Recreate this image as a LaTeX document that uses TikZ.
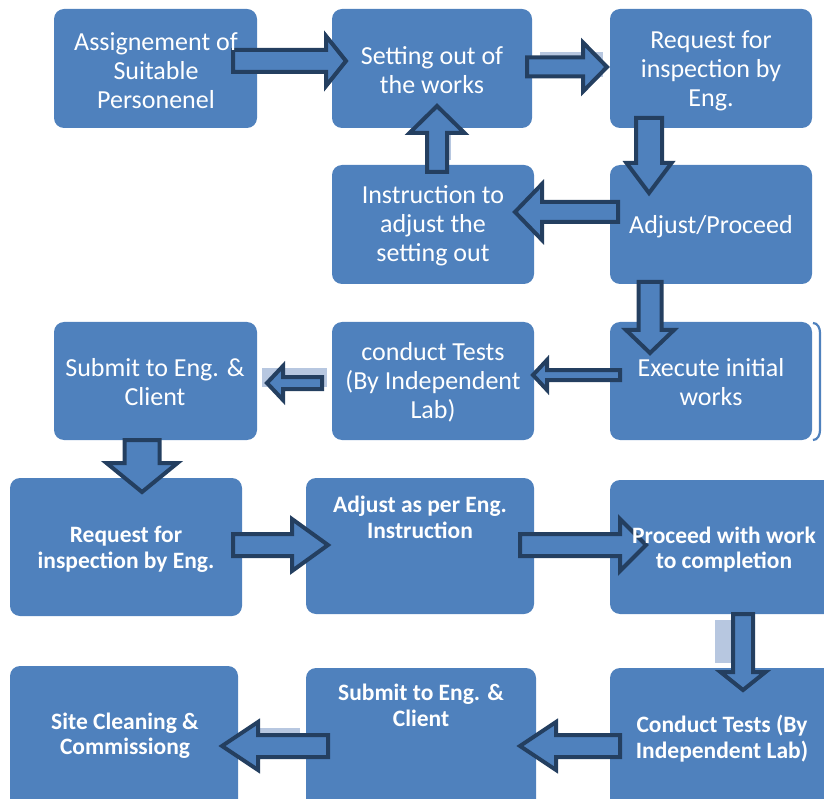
\documentclass[tikz,border=0pt]{standalone}
\usepackage{fontspec}
\setmainfont{Carlito}
\definecolor{boxblue}{HTML}{4F81BD}
\definecolor{navy}{HTML}{243F60}
\definecolor{shade}{HTML}{B7C7E0}
\tikzset{
  box/.style={fill=boxblue, rounded corners=10pt, inner sep=0pt},
  txt/.style={text=white, align=center, inner sep=0pt, font=\fontsize{26}{29}\selectfont, yshift=-1.5pt},
  btxt/.style={text=white, align=center, inner sep=0pt, font=\fontsize{23.5}{25.5}\selectfont\bfseries, yshift=-2.5pt},
  blockarrow/.style={fill=boxblue, draw=navy, line width=4pt, line join=miter},
  shadowrect/.style={fill=shade, draw=none}
}
% horizontal block arrow: tail x, head-base x, tip x, centre y, shaft half, head half
\newcommand\harr[6]{\draw[blockarrow] (#1,#4-#5) -- (#2,#4-#5) -- (#2,#4-#6) -- (#3,#4) -- (#2,#4+#6) -- (#2,#4+#5) -- (#1,#4+#5) -- cycle;}
% vertical block arrow: centre x, tail y, head-base y, tip y, shaft half, head half
\newcommand\varr[6]{\draw[blockarrow] (#1-#5,#2) -- (#1-#5,#3) -- (#1-#6,#3) -- (#1,#4) -- (#1+#6,#3) -- (#1+#5,#3) -- (#1+#5,#2) -- cycle;}
\newcommand\boxat[5]{\path[box] (#2,#3) rectangle (#4,#5); \coordinate (#1) at ({(#2+#4)/2},{(#3+#5)/2});}
\begin{document}
\begin{tikzpicture}[x=1pt,y=-1pt]
\clip (0,0) rectangle (824,799);
\useasboundingbox (0,0) rectangle (824,799);
% boxes
\boxat{b1}{54}{9}{257}{128}
\boxat{b2}{332}{9}{532}{128}
\boxat{b3}{610}{9}{812}{128}
\boxat{b4}{332}{165}{534}{284}
\boxat{b5}{610}{165}{812}{284}
\boxat{b6}{54}{322}{257}{440}
\boxat{b7}{332}{322}{534}{440}
\boxat{b8}{610}{322}{812}{440}
\boxat{b9}{10}{478}{242}{616}
\boxat{b10}{306}{478}{534}{614}
\boxat{b11}{610}{480}{840}{614}
\boxat{b12}{10}{666}{238}{810}
\boxat{b13}{306}{668}{536}{810}
\boxat{b14}{610}{668}{840}{810}
% thin bracket beside b8
\draw[boxblue, line width=2.2pt] (813,323) to[out=0,in=90] (820,333) -- (820,430) to[out=-90,in=0] (813,440);
% light shadow patches
\path[shadowrect] (540,52) rectangle (603,77);
\path[shadowrect] (447,135) rectangle (451,160);
\path[shadowrect] (262,368) rectangle (327,387);
\path[shadowrect] (715,620) rectangle (732,663);
\path[shadowrect] (255,728) rectangle (300,737);
% block arrows
\harr{233}{326}{346}{61}{11}{25}
\harr{527}{583}{607}{67}{9.5}{24.5}
\varr{649}{118}{163}{193}{13}{22.5}
\varr{437}{172}{133}{106}{10}{27.5}
\harr{618}{542}{515}{212}{10}{28}
\varr{650}{282}{330}{353}{11.5}{24}
\harr{620}{547}{533}{375}{5}{15}
\harr{322}{283}{267}{383}{6}{17}
\varr{142}{440}{463}{492}{17.5}{35.5}
\harr{233}{292}{328}{545}{11}{26}
\harr{520}{620}{646}{545}{11}{26}
\varr{743}{614}{672}{690}{10}{22.5}
\harr{620}{556}{520}{746}{11}{24}
\harr{328}{258}{222}{746}{11}{24}
% texts
\node[txt] (t1) at (156,69) {Assignement of\\Suitable\\Personenel};
\node[txt] (t2) at (432,69) {Setting out of\\the works};
\node[txt] (t3) at (711,69) {Request for\\inspection by\\Eng.};
\node[txt] (t4) at (433,224) {Instruction to\\adjust the\\setting out};
\node[txt] (t5) at (711,225) {Adjust/Proceed};
\node[txt] (t6) at (155,381) {Submit to Eng. \&\\Client};
\node[txt] (t7) at (433,381) {conduct Tests\\(By Independent\\Lab)};
\node[txt] (t8) at (711,381) {Execute initial\\works};
\node[btxt] (t9) at (126,547) {Request for\\inspection by Eng.};
\node[btxt] (t10) at (420,515) {Adjust as per Eng.\\Instruction};
\node[btxt] (t11) at (724,547) {Proceed with work\\to completion};
\node[btxt] (t12) at (125,733) {Site Cleaning \&\\Commissiong};
\node[btxt] (t13) at (421,703) {Submit to Eng. \&\\Client};
\node[btxt] (t14) at (722,736) {Conduct Tests (By\\Independent Lab)};
\end{tikzpicture}
\end{document}
